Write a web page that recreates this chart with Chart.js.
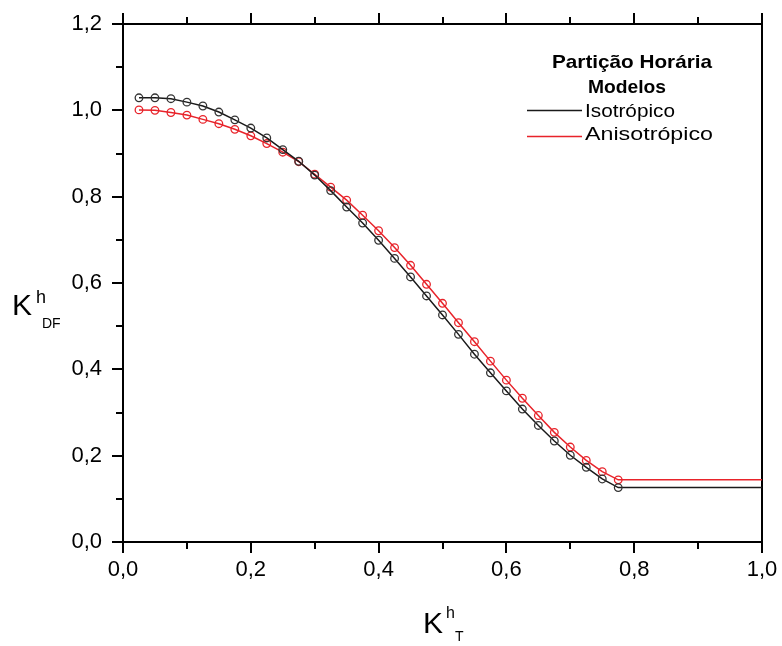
<!DOCTYPE html>
<html>
<head>
<meta charset="utf-8">
<title>Partição Horária</title>
<script src="https://cdn.jsdelivr.net/npm/chart.js@4.4.0/dist/chart.umd.min.js"></script>
<style>
    body { margin: 0; background: #fff; }
    #grafico { display: block; }
</style>
</head>
<body>
<canvas id="grafico" width="782" height="646"></canvas>
<script>
    "use strict";

    // Dados (KhT, KhDF)
    var kt = [0.025, 0.05, 0.075, 0.1, 0.125, 0.15, 0.175, 0.2, 0.225, 0.25,
        0.275, 0.3, 0.325, 0.35, 0.375, 0.4, 0.425, 0.45, 0.475, 0.5,
        0.525, 0.55, 0.575, 0.6, 0.625, 0.65, 0.675, 0.7, 0.725, 0.75,
        0.775, 1.0];
    var isotropico = [1.029, 1.029, 1.027, 1.019, 1.010, 0.996, 0.978, 0.959, 0.936, 0.909,
        0.882, 0.850, 0.814, 0.776, 0.739, 0.699, 0.657, 0.614, 0.570, 0.526,
        0.481, 0.435, 0.392, 0.350, 0.308, 0.270, 0.234, 0.201, 0.173, 0.146,
        0.126, 0.126];
    var anisotropico = [1.001, 1.000, 0.995, 0.989, 0.979, 0.969, 0.956, 0.941, 0.923, 0.903,
        0.881, 0.852, 0.822, 0.792, 0.757, 0.721, 0.682, 0.641, 0.597, 0.553,
        0.508, 0.464, 0.419, 0.375, 0.333, 0.293, 0.254, 0.220, 0.189, 0.163,
        0.144, 0.144];
    var xTicks = [0, 0.2, 0.4, 0.6, 0.8, 1.0];
    var yTicks = [0, 0.2, 0.4, 0.6, 0.8, 1.0, 1.2];
    var xMinor = [0.1, 0.3, 0.5, 0.7, 0.9];
    var yMinor = [0.1, 0.3, 0.5, 0.7, 0.9, 1.1];
    var modelos = ["Isotrópico", "Anisotrópico"];
    var cores = ["#1a1a1a", "#e8232a"];

    function pontos(ys) {
        return kt.map(function (x, i) { return {x: x, y: ys[i]}; });
    }

    // sem marcador no ultimo ponto (trecho constante)
    function raios(r) {
        return kt.map(function (x, i) { return i === kt.length - 1 ? 0 : r; });
    }

    function virgula(v) {
        return v.toFixed(1).replace(".", ",");
    }

    function ajustaTicks(lista) {
        return function (scale) {
            scale.ticks = lista.map(function (v) { return {value: v}; });
        };
    }

    var eixo = {
        border: {color: "#000", width: 2},
        grid: {drawOnChartArea: false, color: "#000", lineWidth: 2, tickLength: 11},
        ticks: {color: "#000", font: {family: "Liberation Sans, Arial", size: 22}, callback: virgula}
    };

    // Textos: legenda e titulos dos eixos
    var textos = {
        id: "textos",
        afterDraw: function (chart) {
            var ctx = chart.ctx;
            ctx.save();
            ctx.fillStyle = "#000";
            ctx.textBaseline = "alphabetic";

            function esticado(txt, x, y, largura, alinhar) {
                var w = ctx.measureText(txt).width;
                var s = largura / w;
                ctx.save();
                var x0 = alinhar === "center" ? x - largura / 2 : x;
                ctx.translate(x0, y);
                ctx.scale(s, 1);
                ctx.textAlign = "left";
                ctx.fillText(txt, 0, 0);
                ctx.restore();
            }

            ctx.font = "bold 19px Liberation Sans, Arial";
            esticado("Partição Horária", 632, 68, 160, "center");
            esticado("Modelos", 627, 93, 78, "center");

            ctx.font = "18px Liberation Sans, Arial";
            esticado(modelos[0], 585, 117, 90, "left");
            esticado(modelos[1], 585, 140, 128, "left");

            ctx.lineWidth = 1.5;
            ctx.strokeStyle = cores[0];
            ctx.beginPath(); ctx.moveTo(527, 110.5); ctx.lineTo(582, 110.5); ctx.stroke();
            ctx.strokeStyle = cores[1];
            ctx.beginPath(); ctx.moveTo(527, 136.5); ctx.lineTo(582, 136.5); ctx.stroke();

            // eixo Y: K h DF
            ctx.fillStyle = "#000";
            ctx.font = "30px Liberation Sans, Arial";
            ctx.fillText("K", 12, 315);
            ctx.font = "18px Liberation Sans, Arial";
            ctx.fillText("h", 36, 303);
            ctx.font = "14px Liberation Sans, Arial";
            ctx.fillText("DF", 42, 328);

            // eixo X: K h T
            ctx.font = "30px Liberation Sans, Arial";
            ctx.fillText("K", 423, 633);
            ctx.font = "16px Liberation Sans, Arial";
            ctx.fillText("h", 446, 618);
            ctx.font = "14px Liberation Sans, Arial";
            ctx.fillText("T", 455, 641);

            // ticks menores
            var sx = chart.scales.x, sy = chart.scales.y, a = chart.chartArea;
            ctx.strokeStyle = "#000";
            ctx.lineWidth = 2;
            xMinor.forEach(function (v) {
                var px = Math.round(sx.getPixelForValue(v));
                ctx.beginPath(); ctx.moveTo(px, a.bottom); ctx.lineTo(px, a.bottom + 7); ctx.stroke();
                ctx.beginPath(); ctx.moveTo(px, a.top); ctx.lineTo(px, a.top - 7); ctx.stroke();
            });
            yMinor.forEach(function (v) {
                var py = Math.round(sy.getPixelForValue(v));
                ctx.beginPath(); ctx.moveTo(a.left, py); ctx.lineTo(a.left - 7, py); ctx.stroke();
            });
            ctx.restore();
        }
    };

    var ctx6 = document.getElementById("grafico").getContext("2d");
    var myChart6 = new Chart(ctx6, {
        type: "line",
        data: {
            datasets: [{
                label: modelos[0],
                data: pontos(isotropico),
                borderColor: cores[0],
                borderWidth: 1.5,
                pointRadius: raios(3.8),
                pointBorderColor: "#333",
                pointBackgroundColor: "rgba(0,0,0,0)",
                pointBorderWidth: 1.3,
                fill: false
            }, {
                label: modelos[1],
                data: pontos(anisotropico),
                borderColor: cores[1],
                borderWidth: 1.5,
                pointRadius: raios(3.8),
                pointBorderColor: cores[1],
                pointBackgroundColor: "rgba(0,0,0,0)",
                pointBorderWidth: 1.3,
                fill: false
            }]
        },
        options: {
            responsive: false,
            animation: false,
            layout: {padding: 0},
            plugins: {legend: {display: false}, tooltip: {enabled: false}},
            scales: {
                x: Object.assign({}, eixo, {
                    type: "linear", position: "bottom", min: 0, max: 1,
                    ticks: Object.assign({}, eixo.ticks, {padding: 4}),
                    afterBuildTicks: ajustaTicks(xTicks),
                    afterFit: function (s) { s.height = 104; }
                }),
                x2: Object.assign({}, eixo, {
                    type: "linear", position: "top", min: 0, max: 1,
                    ticks: {display: false},
                    afterBuildTicks: ajustaTicks(xTicks),
                    afterFit: function (s) { s.height = 24; }
                }),
                y: Object.assign({}, eixo, {
                    type: "linear", position: "left", min: 0, max: 1.2,
                    ticks: Object.assign({}, eixo.ticks, {padding: 10}),
                    afterBuildTicks: ajustaTicks(yTicks),
                    afterFit: function (s) { s.width = 123; }
                }),
                y2: {
                    type: "linear", position: "right", min: 0, max: 1.2,
                    border: {color: "#000", width: 2},
                    grid: {display: false},
                    ticks: {display: false},
                    afterFit: function (s) { s.width = 20; }
                }
            }
        },
        plugins: [textos]
    });
</script>
</body>
</html>
